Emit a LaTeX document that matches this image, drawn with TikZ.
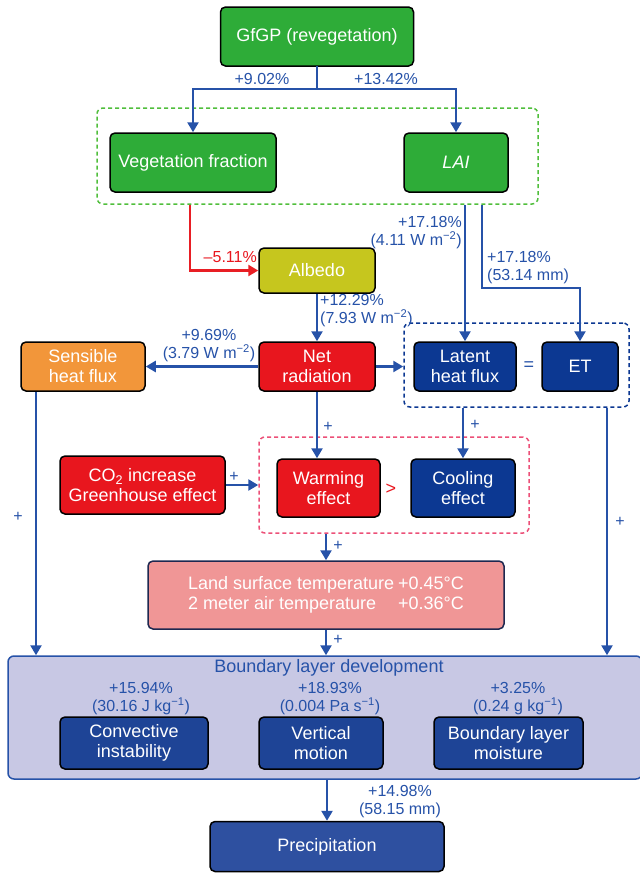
\documentclass[tikz,border=0pt]{standalone}
\usepackage{fontspec}
\setmainfont{Liberation Sans}
\usetikzlibrary{arrows.meta}
\definecolor{cgreen}{RGB}{46,172,56}
\definecolor{cgreendash}{RGB}{80,190,60}
\definecolor{cline}{RGB}{38,82,168}
\definecolor{cnavy}{RGB}{12,56,146}
\definecolor{cblbox}{RGB}{30,68,150}
\definecolor{cprecip}{RGB}{46,80,160}
\definecolor{cred}{RGB}{232,22,30}
\definecolor{calbedo}{RGB}{198,198,30}
\definecolor{corange}{RGB}{242,150,58}
\definecolor{clst}{RGB}{240,150,150}
\definecolor{cbld}{RGB}{200,200,228}
\definecolor{cpinkdash}{RGB}{236,80,120}
\definecolor{credline}{RGB}{232,30,36}
\definecolor{clstborder}{RGB}{30,40,80}
\tikzset{
 box/.style={draw=black, line width=1.5pt, rounded corners=5pt, text=white, align=center, inner sep=0pt, font=\fontsize{18}{20}\selectfont},
 lbl/.style={text=cline, align=center, inner sep=0pt, font=\fontsize{16}{18}\selectfont},
 big/.style={font=\fontsize{18}{20}\selectfont},
 conn/.style={draw=cline, line width=2.5pt},
 arr/.style={conn, -{Triangle[length=10pt,width=11pt]}},
 redarr/.style={draw=credline, line width=2.5pt, -{Triangle[length=10pt,width=11pt]}},
 dbox/.style={line width=1.5pt, dash pattern=on 4pt off 3pt, rounded corners=6pt, inner sep=0pt},
}
\begin{document}
\begin{tikzpicture}[x=1pt,y=-1pt]
\useasboundingbox (0,0) rectangle (640,873);

% top
\node[box, fill=cgreen, minimum width=193pt, minimum height=59pt] (gfgp) at (317,36.5) {GfGP (revegetation)};
\node[box, fill=cgreen, minimum width=166pt, minimum height=59pt] (veg) at (193,162.5) {Vegetation fraction};
\node[box, fill=cgreen, minimum width=104pt, minimum height=59pt] (lai) at (456,162.5) {\textit{LAI}};
\node[dbox, draw=cgreendash, minimum width=441pt, minimum height=96pt] (vegbox) at (317.5,156) {};
\coordinate (split) at (317,89);
\draw[conn, line cap=rect] (gfgp.south) -- (split);
\draw[arr] (split) -| (veg.north);
\draw[arr] (split) -| (lai.north);
\node[lbl] (l902) at (262,79) {+9.02\%};
\node[lbl] (l1342) at (386,79) {+13.42\%};

% albedo
\node[box, fill=calbedo, minimum width=116pt, minimum height=45pt] (albedo) at (317,270.5) {Albedo};
\coordinate (vfB) at (190,204.75);
\draw[redarr] (vfB) |- (albedo.west);
\node[lbl, text=cred, anchor=east] (l511) at (257,257) {–5.11\%};

% row 2
\node[box, fill=cred, minimum width=116pt, minimum height=49pt] (net) at (317,366.5) {Net\\radiation};
\node[box, fill=corange, minimum width=124pt, minimum height=49pt] (sens) at (83,366.5) {Sensible\\heat flux};
\node[box, fill=cnavy, minimum width=102pt, minimum height=49pt] (latent) at (465,366.5) {Latent\\heat flux};
\node[box, fill=cnavy, minimum width=76pt, minimum height=49pt] (et) at (580,366.5) {ET};
\node[dbox, draw=cnavy, minimum width=225pt, minimum height=84pt] (etbox) at (516.5,365) {};
\node[lbl, big] (eq) at (529,366) {=};

\coordinate (laiB) at (482,204.75);
\coordinate (etturn) at (482,288);
\draw[arr] (vegbox.south -| latent.north) -- (latent.north);
\draw[arr] (laiB) -- (etturn) -| (et.north);
\node[lbl, anchor=east, align=right] (l1718a) at (462,233) {+17.18\%\\(4.11 W m\textsuperscript{−2})};
\node[lbl, anchor=west, align=left] (l1718b) at (487,267.5) {+17.18\%\\(53.14 mm)};
\node[lbl, anchor=west, align=left] (l1229) at (320,311) {+12.29\%\\(7.93 W m\textsuperscript{−2})};
\node[lbl] (l969) at (209,346) {+9.69\%\\(3.79 W m\textsuperscript{−2})};

\draw[arr] (albedo.south) -- (net.north);
\draw[arr] (net.west) -- (sens.east);
\draw[arr] (net.east) -- (net.east -| etbox.west);

% heat effects
\node[box, fill=cred, minimum width=103pt, minimum height=58pt] (warm) at (328.5,488) {Warming\\effect};
\node[box, fill=cnavy, minimum width=104pt, minimum height=58pt] (cool) at (463,488) {Cooling\\effect};
\node[dbox, draw=cpinkdash, minimum width=270pt, minimum height=96pt] (heatbox) at (394,485) {};
\node[lbl, big, text=cred] (gt) at (391,489) {>};
\node[box, fill=cred, minimum width=165pt, minimum height=58pt] (co2) at (142.5,485) {CO\textsubscript{2} increase\\Greenhouse effect};

\draw[arr] (net.south) -- (net.south |- warm.north);
\draw[arr] (etbox.south -| cool.north) -- (cool.north);
\draw[arr] (co2.east) -- (co2.east -| heatbox.west);
\node[lbl] (p1) at (328,427) {+};
\node[lbl] (p2) at (475,425) {+};
\node[lbl] (p3) at (234,477) {+};

% LST
\node[box, fill=clst, draw=clstborder, minimum width=356pt, minimum height=68pt] (lst) at (326,595)
 {\begin{tabular}{@{}l@{\hspace{4pt}}l@{}}Land surface temperature & +0.45°C\\ 2 meter air temperature & +0.36°C\end{tabular}};
\draw[arr] (heatbox.south -| lst.north) -- (lst.north);
\node[lbl] (p4) at (338,546) {+};

% BLD
\node[draw=cline, line width=1.5pt, fill=cbld, rounded corners=6pt, minimum width=634pt, minimum height=123pt, inner sep=0pt] (bld) at (325,717.5) {};
\node[lbl, big] (bldt) at (329,668) {Boundary layer development};
\node[lbl] (l1594) at (141,698.5) {+15.94\%\\(30.16 J kg\textsuperscript{−1})};
\node[lbl] (l1893) at (330,698.5) {+18.93\%\\(0.004 Pa s\textsuperscript{−1})};
\node[lbl] (l325) at (518,698.5) {+3.25\%\\(0.24 g kg\textsuperscript{−1})};
\node[box, fill=cblbox, minimum width=148pt, minimum height=52pt] (conv) at (134,743) {Convective\\instability};
\node[box, fill=cblbox, minimum width=124pt, minimum height=52pt] (vert) at (321,743) {Vertical\\motion};
\node[box, fill=cblbox, minimum width=149pt, minimum height=52pt] (moist) at (508.5,743) {Boundary layer\\moisture};

\draw[arr] (lst.south) -- (lst.south |- bld.north);
\node[lbl] (p5) at (338,640) {+};
\coordinate (sensB) at (36,391.75);
\draw[arr] (sensB) -- (sensB |- bld.north);
\node[lbl] (p6) at (18,517) {+};
\coordinate (etB) at (607,407.75);
\draw[arr] (etB) -- (etB |- bld.north);
\node[lbl] (p7) at (620,522) {+};

% precipitation
\node[box, fill=cprecip, minimum width=234pt, minimum height=50pt] (precip) at (327,846.5) {Precipitation};
\draw[arr] (bld.south -| precip.north) -- (precip.north);
\node[lbl] (l1498) at (400,801.5) {+14.98\%\\(58.15 mm)};
\end{tikzpicture}
\end{document}
